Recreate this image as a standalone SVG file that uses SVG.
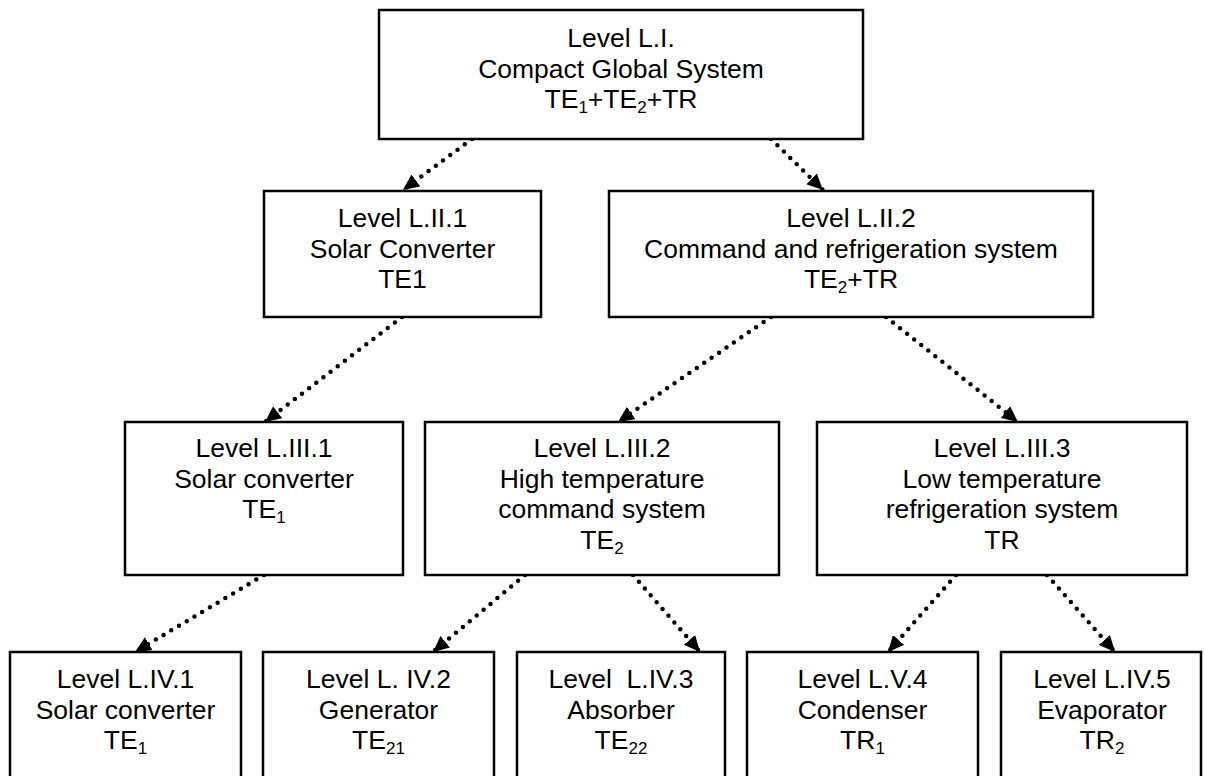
<svg xmlns="http://www.w3.org/2000/svg" width="1205" height="776" viewBox="0 0 1205 776">
<style>
.box{fill:#fff;stroke:#000;stroke-width:2.5}
.t{font-family:"Liberation Sans",Arial,sans-serif;font-size:26.5px;fill:#000;text-anchor:middle}
.s{font-size:17px}
.c{fill:none;stroke:#000;stroke-width:4.5;stroke-linecap:round;stroke-dasharray:0 9}
</style>
<defs>
<marker id="ah" markerUnits="userSpaceOnUse" markerWidth="18" markerHeight="16" refX="16" refY="7.5" orient="auto">
<path d="M0,0 L16,7.5 L0,15 z" fill="#000"/>
</marker>
</defs>
<rect width="1205" height="776" fill="#fff"/>
<g id="connectors">
<line class="c" x1="472" y1="139" x2="403" y2="190" marker-end="url(#ah)"/>
<line class="c" x1="771" y1="139" x2="823" y2="190" marker-end="url(#ah)"/>
<line class="c" x1="402" y1="317" x2="265" y2="422" marker-end="url(#ah)"/>
<line class="c" x1="771" y1="317" x2="618" y2="422" marker-end="url(#ah)"/>
<line class="c" x1="886" y1="317" x2="1018" y2="422" marker-end="url(#ah)"/>
<line class="c" x1="264" y1="575" x2="135" y2="652" marker-end="url(#ah)"/>
<line class="c" x1="525" y1="575" x2="433" y2="652" marker-end="url(#ah)"/>
<line class="c" x1="633" y1="575" x2="700" y2="652" marker-end="url(#ah)"/>
<line class="c" x1="956" y1="575" x2="888" y2="652" marker-end="url(#ah)"/>
<line class="c" x1="1047" y1="575" x2="1115" y2="652" marker-end="url(#ah)"/>
</g>
<g id="n-LI">
<rect class="box" x="379" y="10" width="484" height="129"/>
<text class="t" x="621" y="47">Level L.I.</text>
<text class="t" x="621" y="77.5">Compact Global System</text>
<text class="t" x="621" y="108">TE<tspan class="s" dy="5">1</tspan><tspan dy="-5">+TE</tspan><tspan class="s" dy="5">2</tspan><tspan dy="-5">+TR</tspan></text>
</g>
<g id="n-LII1">
<rect class="box" x="264" y="191" width="277" height="126"/>
<text class="t" x="402.5" y="227">Level L.II.1</text>
<text class="t" x="402.5" y="257.5">Solar Converter</text>
<text class="t" x="402.5" y="288">TE1</text>
</g>
<g id="n-LII2">
<rect class="box" x="609" y="191" width="484" height="126"/>
<text class="t" x="851" y="227">Level L.II.2</text>
<text class="t" x="851" y="257.5">Command and refrigeration system</text>
<text class="t" x="851" y="288">TE<tspan class="s" dy="5">2</tspan><tspan dy="-5">+TR</tspan></text>
</g>
<g id="n-LIII1">
<rect class="box" x="125" y="422" width="278" height="153"/>
<text class="t" x="264" y="457">Level L.III.1</text>
<text class="t" x="264" y="487.5">Solar converter</text>
<text class="t" x="264" y="518">TE<tspan class="s" dy="5">1</tspan></text>
</g>
<g id="n-LIII2">
<rect class="box" x="425" y="422" width="354" height="153"/>
<text class="t" x="602" y="457">Level L.III.2</text>
<text class="t" x="602" y="487.5">High temperature</text>
<text class="t" x="602" y="518">command system</text>
<text class="t" x="602" y="548.5">TE<tspan class="s" dy="5">2</tspan></text>
</g>
<g id="n-LIII3">
<rect class="box" x="817" y="422" width="370" height="153"/>
<text class="t" x="1002" y="457">Level L.III.3</text>
<text class="t" x="1002" y="487.5">Low temperature</text>
<text class="t" x="1002" y="518">refrigeration system</text>
<text class="t" x="1002" y="548.5">TR</text>
</g>
<g id="n-LIV1">
<rect class="box" x="10" y="652" width="231" height="140"/>
<text class="t" x="125.5" y="688">Level L.IV.1</text>
<text class="t" x="125.5" y="718.5">Solar converter</text>
<text class="t" x="125.5" y="749">TE<tspan class="s" dy="5">1</tspan></text>
</g>
<g id="n-LIV2">
<rect class="box" x="263" y="652" width="231" height="140"/>
<text class="t" x="378.5" y="688">Level L. IV.2</text>
<text class="t" x="378.5" y="718.5">Generator</text>
<text class="t" x="378.5" y="749">TE<tspan class="s" dy="5">21</tspan></text>
</g>
<g id="n-LIV3">
<rect class="box" x="517" y="652" width="208" height="140"/>
<text class="t" x="621" y="688" xml:space="preserve">Level  L.IV.3</text>
<text class="t" x="621" y="718.5">Absorber</text>
<text class="t" x="621" y="749">TE<tspan class="s" dy="5">22</tspan></text>
</g>
<g id="n-LV4">
<rect class="box" x="747" y="652" width="231" height="140"/>
<text class="t" x="862.5" y="688">Level L.V.4</text>
<text class="t" x="862.5" y="718.5">Condenser</text>
<text class="t" x="862.5" y="749">TR<tspan class="s" dy="5">1</tspan></text>
</g>
<g id="n-LIV5">
<rect class="box" x="1001" y="652" width="200" height="140"/>
<text class="t" x="1102" y="688">Level L.IV.5</text>
<text class="t" x="1102" y="718.5">Evaporator</text>
<text class="t" x="1102" y="749">TR<tspan class="s" dy="5">2</tspan></text>
</g>
</svg>
